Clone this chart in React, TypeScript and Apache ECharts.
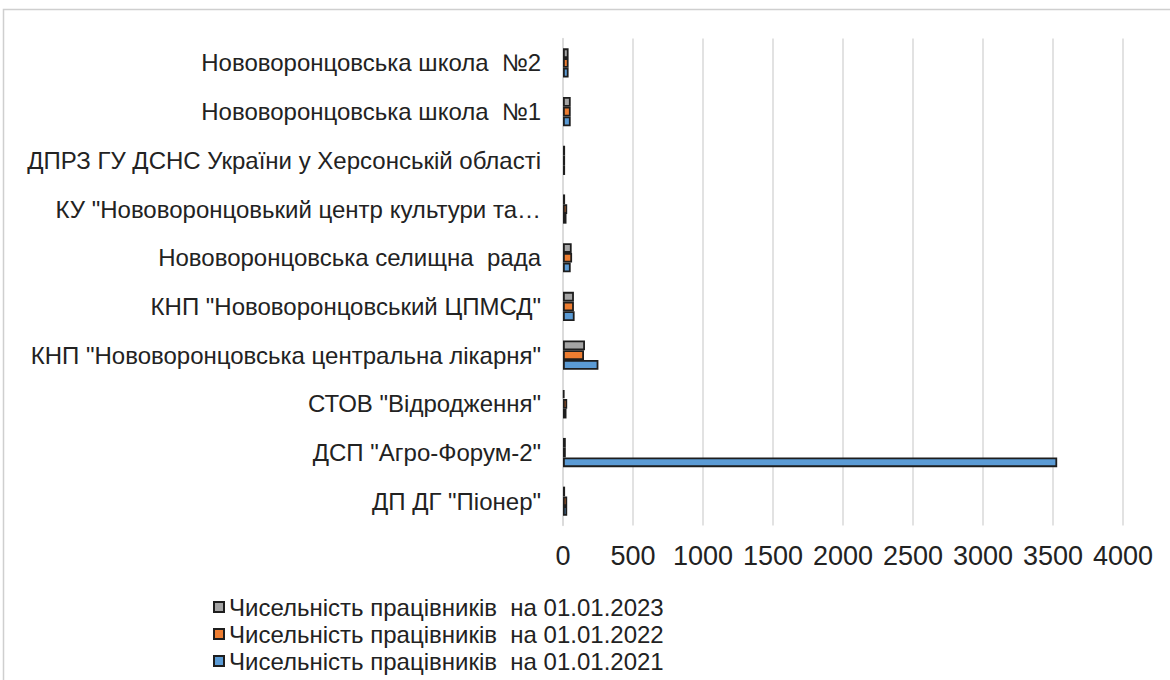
import React, { useEffect, useRef } from "react";
import * as echarts from "echarts";

const categories = [
  'ДП ДГ "Піонер"',
  'ДСП "Агро-Форум-2"',
  'СТОВ "Відродження"',
  'КНП "Нововоронцовська центральна лікарня"',
  'КНП "Нововоронцовський ЦПМСД"',
  "Нововоронцовська селищна  рада",
  'КУ "Нововоронцовький центр культури та…',
  "ДПРЗ ГУ ДСНС України у Херсонській області",
  "Нововоронцовська школа  №1",
  "Нововоронцовська школа  №2",
];

const seriesNames = [
  "Чисельність працівників  на 01.01.2023",
  "Чисельність працівників  на 01.01.2022",
  "Чисельність працівників  на 01.01.2021",
];

const values2023 = [15, 20, 10, 157, 78, 62, 15, 15, 55, 40];
const values2022 = [30, 20, 30, 150, 78, 65, 30, 15, 55, 40];
const values2021 = [30, 3530, 25, 253, 83, 55, 25, 15, 55, 40];

const colors = ["#a5a5a5", "#ed7d31", "#5b9bd5"];

const xTicks = { min: 0, max: 4000, interval: 500 };

const FONT = "'Liberation Sans', Arial, sans-serif";

export default function App() {
  const ref = useRef<HTMLDivElement>(null);
  useEffect(() => {
    if (!ref.current) return;
    const chart = echarts.init(ref.current, null, { renderer: "svg" });
    const allValues = [values2023, values2022, values2021];
    chart.setOption({
      animation: false,
      backgroundColor: "#ffffff",
      textStyle: { fontFamily: FONT },
      graphic: [
        {
          type: "rect",
          shape: { x: 3.5, y: 9.5, width: 1200, height: 700 },
          style: { fill: "none", stroke: "#cfcfcf", lineWidth: 1.5 },
          silent: true,
        },
      ],
      grid: { left: 563, right: 47, top: 38.6, height: 487, containLabel: false },
      legend: {
        orient: "vertical",
        left: 208,
        top: 590,
        itemWidth: 10,
        itemHeight: 10,
        itemGap: 3,
        icon: "rect",
        data: seriesNames,
        textStyle: { fontSize: 24, color: "#222", fontFamily: FONT },
      },
      xAxis: {
        type: "value",
        min: xTicks.min,
        max: xTicks.max,
        interval: xTicks.interval,
        axisLine: { show: false },
        axisTick: { show: false },
        splitLine: { lineStyle: { color: "#d9d9d9", width: 1.5 } },
        axisLabel: {
          fontSize: 27,
          color: "#222",
          margin: 17,
          fontFamily: FONT,
          formatter: (v: number) => String(v),
        },
      },
      yAxis: {
        type: "category",
        data: categories,
        axisLine: { show: true, lineStyle: { color: "#d9d9d9", width: 1.5 } },
        axisTick: { show: false },
        axisLabel: { fontSize: 24, color: "#222", margin: 22, fontFamily: FONT },
      },
      series: seriesNames.map((name, i) => ({
        name,
        type: "bar",
        data: allValues[i],
        barCategoryGap: "40%",
        barGap: "0%",
        itemStyle: { color: colors[i], borderColor: "#1e1e1e", borderWidth: 1.8 },
      })),
    });
    return () => chart.dispose();
  }, []);
  return (
    <div
      ref={ref}
      style={{ position: "fixed", left: 0, top: 0, width: 1170, height: 680 }}
    />
  );
}
